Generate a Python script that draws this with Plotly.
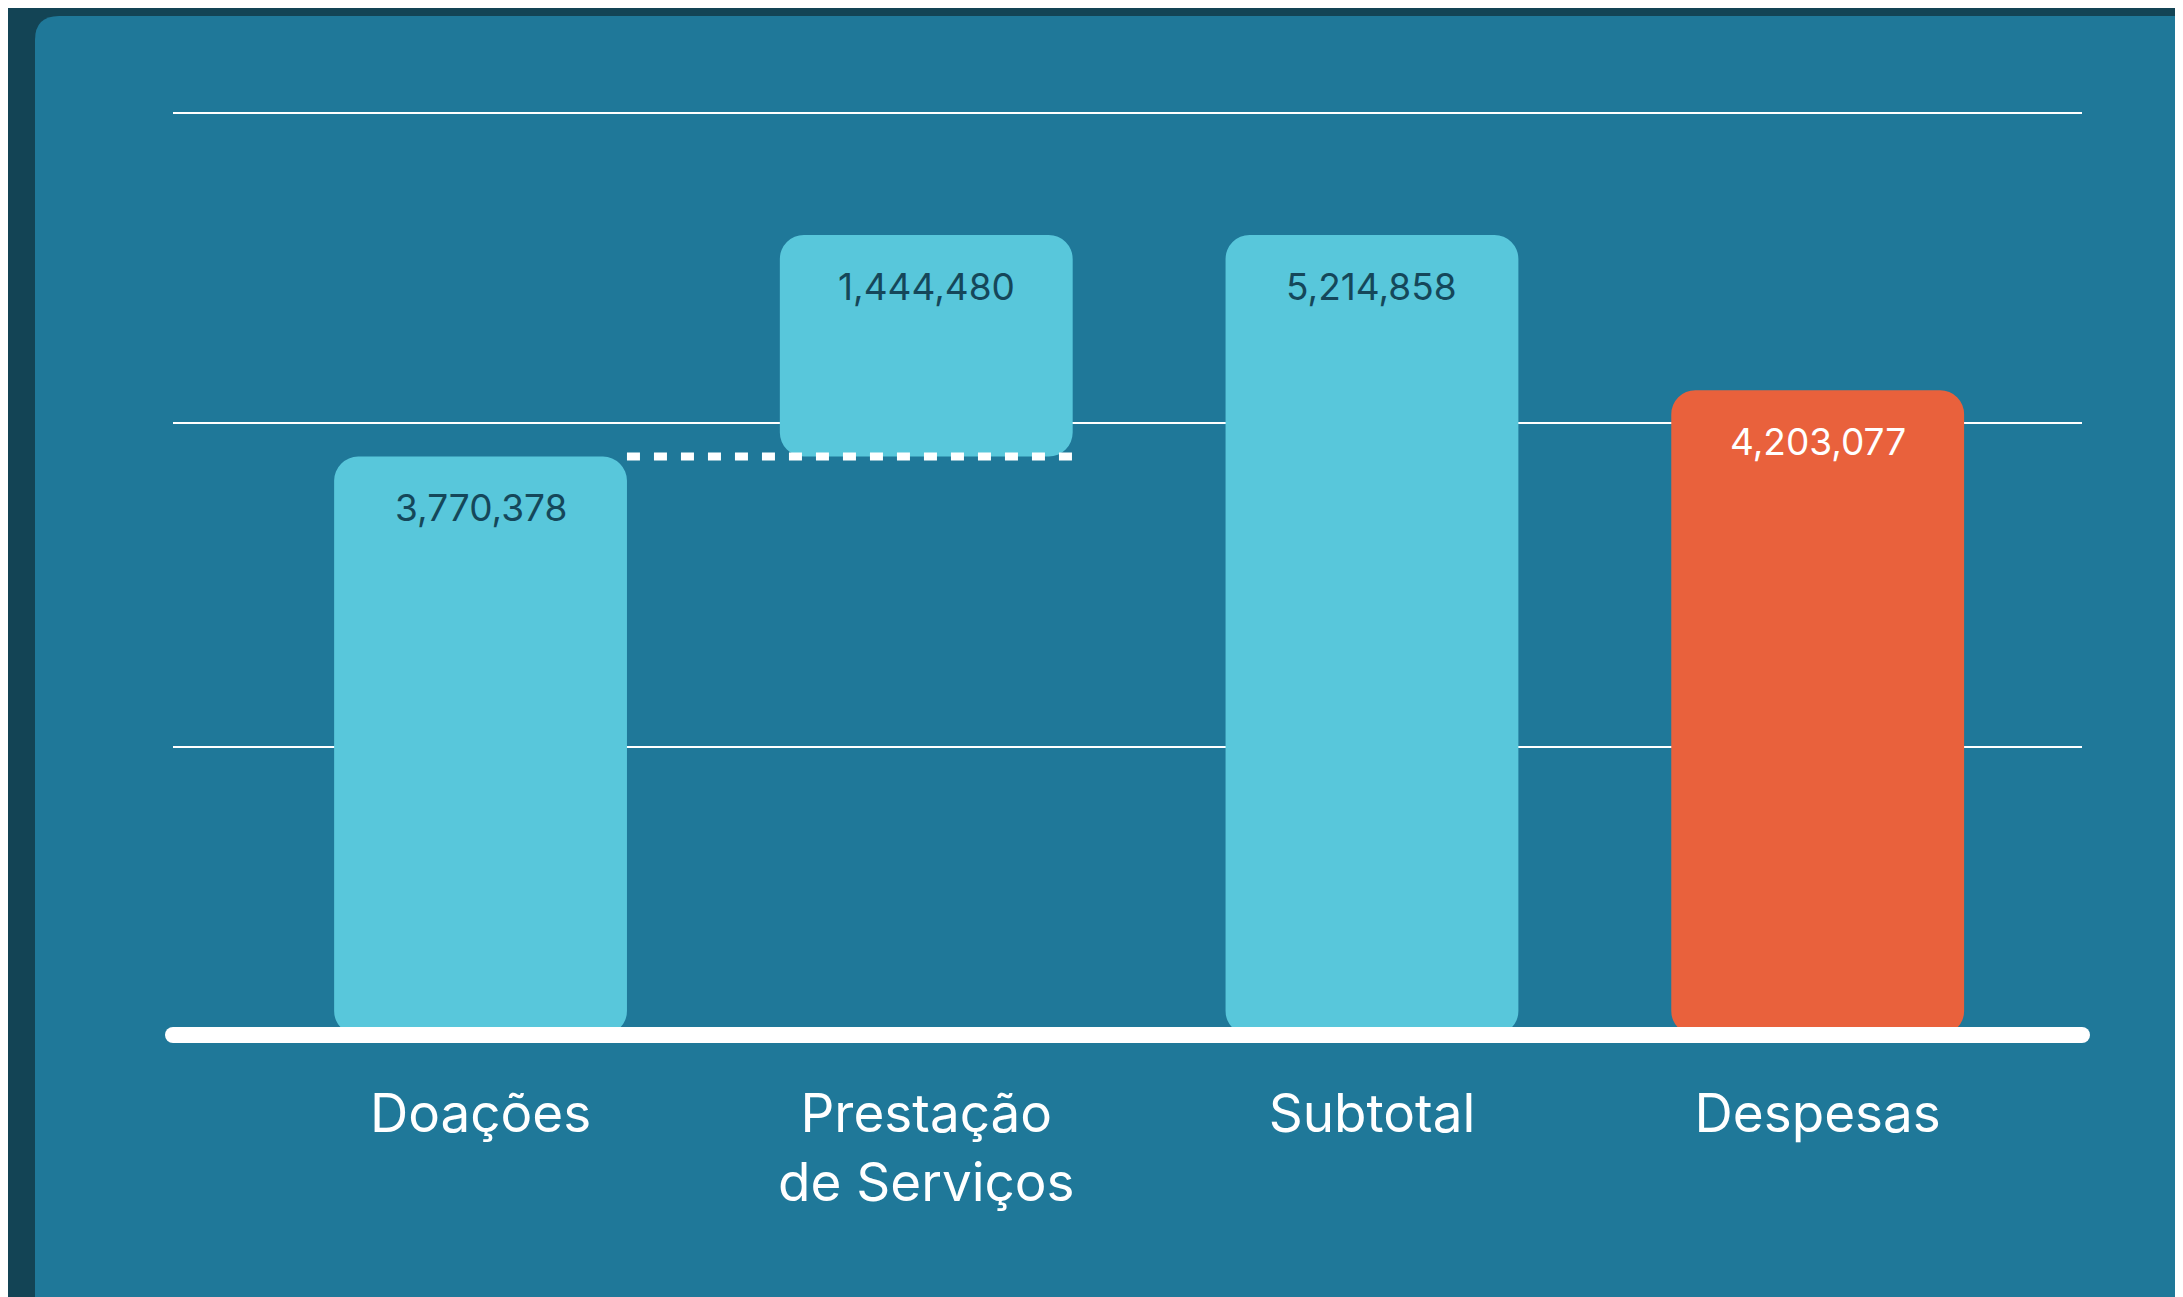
import plotly.graph_objects as go

# ---- data ----
categories = ["Doações", "Prestação<br>de Serviços", "Subtotal", "Despesas"]
values = [3770378, 1444480, 5214858, 4203077]
bases = [0, 3770378, 0, 0]
bar_colors = ["#58c7db", "#58c7db", "#58c7db", "#e9613c"]
label_colors = ["#15475a", "#15475a", "#15475a", "#ffffff"]
grid_values = [1.88e6, 3.99e6, 6.01e6]

# ---- layout geometry (page is drawn with an 8px body offset) ----
OFF = 8
W, H = 2183, 1297
K = 153.4e-6            # pixels per unit
ZERO_PX = 1035 - OFF    # y pixel of value 0
TOP_PX = 100 - OFF
BOT_PX = ZERO_PX + 14
ML = 173 - OFF
MR = W - (2082 - OFF)
MT = TOP_PX
MB = H - BOT_PX
PW, PH = W - ML - MR, H - MT - MB
XR = [-0.690, 3.593]
YR = [-(BOT_PX - ZERO_PX) / K, (ZERO_PX - TOP_PX) / K]
BAR_W = 0.657


def px(xp):
    return (xp - ML) / PW


def py(yp):
    return (H - MB - yp) / PH


xs = list(range(len(categories)))

fig = go.Figure()

fig.add_trace(go.Bar(
    x=xs, y=values, base=bases, width=BAR_W,
    marker=dict(color=bar_colors, line=dict(width=0), cornerradius=24),
    hoverinfo="skip", showlegend=False,
))

# connector (dotted) from Doações top to Prestação base
fig.add_shape(type="line", xref="x", yref="y",
              x0=xs[0] + BAR_W / 2, x1=xs[1] + BAR_W / 2,
              y0=values[0], y1=values[0],
              line=dict(color="white", width=8, dash="13px,14px"))

# baseline with rounded ends
fig.add_trace(go.Scatter(
    x=[XR[0], XR[1]], y=[0, 0], mode="lines+markers",
    line=dict(color="white", width=16),
    marker=dict(color="white", size=16, line=dict(width=0)),
    cliponaxis=False, hoverinfo="skip", showlegend=False,
))

# value labels
for i, (v, b) in enumerate(zip(values, bases)):
    fig.add_annotation(x=xs[i], y=v + b, xref="x", yref="y",
                       text=f"{v:,}", showarrow=False, yanchor="middle",
                       yshift=-51,
                       font=dict(family="Inter", size=37, color=label_colors[i]))

# card background
CX, CY, CR = 35 - OFF, 16 - OFF, 24
fig.add_shape(type="path", xref="paper", yref="paper", layer="below",
              path=(f"M {px(CX)},{py(1400)} L {px(CX)},{py(CY + CR)} "
                    f"Q {px(CX)},{py(CY)} {px(CX + CR)},{py(CY)} "
                    f"L {px(2300)},{py(CY)} L {px(2300)},{py(1400)} Z"),
              fillcolor="#1f7899", line=dict(width=0))

fig.update_layout(
    width=W, height=H,
    margin=dict(l=ML, r=MR, t=MT, b=MB),
    paper_bgcolor="#134455", plot_bgcolor="rgba(0,0,0,0)",
    showlegend=False,
    font=dict(family="Inter", color="white"),
    xaxis=dict(range=XR, tickvals=xs, ticktext=categories, showgrid=False,
               zeroline=False, showline=False, ticks="outside", ticklen=18,
               tickcolor="rgba(0,0,0,0)",
               tickfont=dict(family="Inter", size=53, color="white")),
    yaxis=dict(range=YR, tickvals=grid_values, showticklabels=False,
               showgrid=True, gridcolor="white", gridwidth=2,
               zeroline=False, showline=False, ticks=""),
)

fig.write_html("out.html")
